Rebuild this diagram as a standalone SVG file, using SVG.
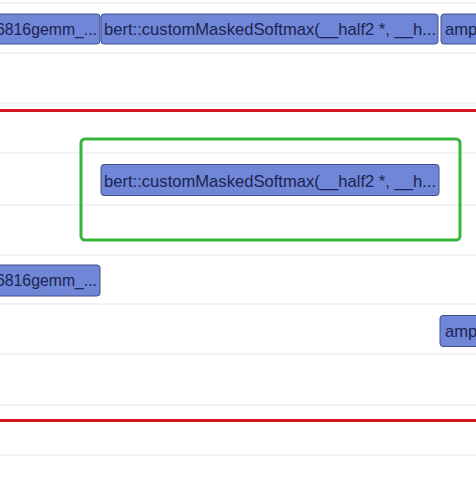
<svg xmlns="http://www.w3.org/2000/svg" width="476" height="477" viewBox="0 0 476 477">
<style>
.grid{stroke:#e8e8e8;stroke-width:1.2}
.red{stroke:#d4161c;stroke-width:3}
.k rect{fill:#7086d6;stroke:#3f4f8c;stroke-width:1;}
.k text{font-family:"Liberation Sans",Arial,sans-serif;font-size:16.6px;fill:#1b2452}
</style>
<rect width="476" height="477" fill="#ffffff"/>
<g id="grid">
<line class="grid" x1="0" y1="3" x2="476" y2="3"/>
<line class="grid" x1="0" y1="53" x2="476" y2="53"/>
<line class="grid" x1="0" y1="103" x2="476" y2="103"/>
<line class="grid" x1="0" y1="153" x2="476" y2="153"/>
<line class="grid" x1="0" y1="205" x2="476" y2="205"/>
<line class="grid" x1="0" y1="255" x2="476" y2="255"/>
<line class="grid" x1="0" y1="304" x2="476" y2="304"/>
<line class="grid" x1="0" y1="354" x2="476" y2="354"/>
<line class="grid" x1="0" y1="405" x2="476" y2="405"/>
<line class="grid" x1="0" y1="455" x2="476" y2="455"/>
<line class="red" x1="0" y1="110.5" x2="476" y2="110.5"/>
<line class="red" x1="0" y1="420.5" x2="476" y2="420.5"/>
</g>
<g id="k1" class="k"><rect x="-10" y="14" width="110" height="30" rx="3"/><text x="-4" y="34.5" textLength="101" lengthAdjust="spacingAndGlyphs">6816gemm_...</text></g>
<g id="k2" class="k"><rect x="101" y="14" width="337" height="30" rx="3"/><text x="104" y="34.5">bert::customMaskedSoftmax(__half2 *, __h...</text></g>
<g id="k3" class="k"><rect x="441" y="14" width="60" height="30" rx="3"/><text x="445" y="34.5">amp</text></g>
<g id="highlight"><rect x="81" y="139" width="379" height="101" rx="4" fill="none" stroke="#36b53a" stroke-width="3"/></g>
<g id="k4" class="k"><rect x="101" y="164.5" width="338" height="31" rx="3"/><text x="104" y="186.5">bert::customMaskedSoftmax(__half2 *, __h...</text></g>
<g id="k5" class="k"><rect x="-10" y="265" width="110" height="31" rx="3"/><text x="-4" y="286" textLength="101" lengthAdjust="spacingAndGlyphs">6816gemm_...</text></g>
<g id="k6" class="k"><rect x="440" y="315.5" width="60" height="31" rx="3"/><text x="445" y="337">amp</text></g>
</svg>
